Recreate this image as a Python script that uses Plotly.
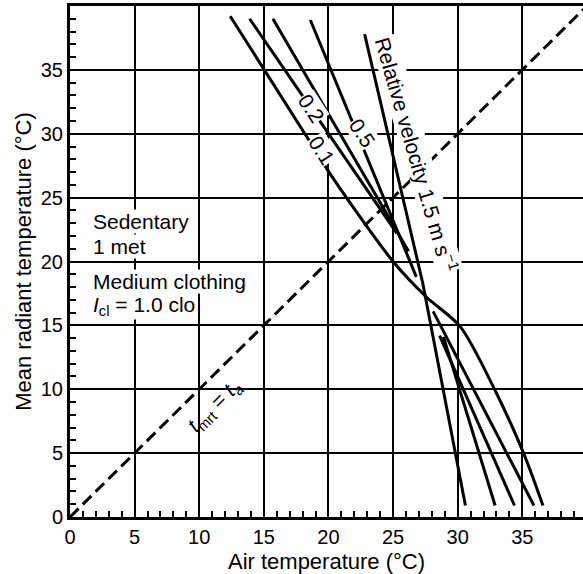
import plotly.graph_objects as go

# ---- data ----
velocity_labels = ["0.1", "0.2", "0.5", "1.0", "1.5"]

# 0.1 m/s : one continuous curve
v01_x = [12.4, 18.8, 20.3, 25.0, 27.6, 30.2, 32.9, 35.1, 36.6]
v01_y = [39.2, 29.0, 26.6, 20.0, 17.2, 14.9, 9.9, 5.0, 0.9]

# 0.2 m/s : upper and lower segments
v02_up_x = [13.9, 25.3]
v02_up_y = [39.0, 22.2]
v02_lo_x = [28.1, 35.9]
v02_lo_y = [16.1, 0.9]

# 0.5 m/s
v05_up_x = [15.7, 26.2]
v05_up_y = [39.0, 20.8]
v05_lo_x = [28.6, 34.4]
v05_lo_y = [14.2, 0.9]

# 1.0 m/s
v10_up_x = [18.6, 26.8]
v10_up_y = [38.9, 18.8]
v10_lo_x = [28.9, 32.9]
v10_lo_y = [14.1, 0.9]

# 1.5 m/s
v15_x = [22.8, 27.3, 30.6]
v15_y = [37.8, 18.3, 0.9]

# line of equal temperatures t_mrt = t_a
diag_x = [0, 40]
diag_y = [0, 40]

x_ticks = [0, 5, 10, 15, 20, 25, 30, 35]
y_ticks = [0, 5, 10, 15, 20, 25, 30, 35]

FONT = "Liberation Sans, Arial, Helvetica, sans-serif"
LW = 3

fig = go.Figure()

def add_line(x, y, shape="linear"):
    fig.add_trace(go.Scatter(x=x, y=y, mode="lines",
                             line=dict(color="black", width=LW, shape=shape, smoothing=0.8),
                             showlegend=False, hoverinfo="skip"))

add_line(v01_x, v01_y, shape="spline")
for xs, ys in [(v02_up_x, v02_up_y), (v02_lo_x, v02_lo_y),
               (v05_up_x, v05_up_y), (v05_lo_x, v05_lo_y),
               (v10_up_x, v10_up_y), (v10_lo_x, v10_lo_y)]:
    add_line(xs, ys)
add_line(v15_x, v15_y)

fig.add_trace(go.Scatter(x=diag_x, y=diag_y, mode="lines",
                         line=dict(color="black", width=LW, dash="12px,6px"),
                         showlegend=False, hoverinfo="skip"))

annots = []
def label(text, x, y, angle, size=21, bg="white", xanchor="center", yanchor="middle", align="center"):
    annots.append(dict(text=text, x=x, y=y, xref="x", yref="y", showarrow=False,
                       textangle=angle, font=dict(family=FONT, size=size, color="black"),
                       bgcolor=bg, borderpad=0, xanchor=xanchor, yanchor=yanchor, align=align))

label(velocity_labels[0], 19.5, 28.7, 57)
label(velocity_labels[1], 18.7, 32.0, 57)
label(velocity_labels[2], 22.6, 30.1, 57)
label("Relative velocity 1.5 m s<sup>−1</sup>", 26.8, 28.4, 74)
label("<i>t</i><sub>mrt</sub> = <i>t</i><sub><i>a</i></sub>", 11.2, 8.7, -45, bg="rgba(0,0,0,0)")
label("Sedentary", 1.7, 23.1, 0, xanchor="left", align="left")
label("1 met", 1.7, 21.2, 0, xanchor="left", align="left")
label("Medium clothing", 1.7, 18.4, 0, xanchor="left", align="left")
label("<i>I</i><sub>cl</sub> = 1.0 clo", 1.7, 16.5, 0, xanchor="left", align="left")

axis_common = dict(
    showgrid=True, gridcolor="black", gridwidth=1.5,
    showline=True, linecolor="black", linewidth=3,
    ticks="inside", ticklen=6, tickwidth=1.5, tickcolor="black",
    tickfont=dict(family=FONT, size=20, color="black"),
    minor=dict(dtick=1, ticks="inside", ticklen=6, tickwidth=1.5, tickcolor="black", showgrid=False),
    zeroline=False,
)

fig.update_layout(
    width=583, height=574,
    margin=dict(l=70, r=0, t=6, b=57),
    plot_bgcolor="white", paper_bgcolor="white",
    xaxis=dict(range=[0, 39.7], tickvals=x_ticks, mirror=True,
               title=dict(text="Air temperature (°C)", font=dict(family=FONT, size=22, color="black"), standoff=8),
               **axis_common),
    yaxis=dict(range=[0, 40], tickvals=y_ticks,
               title=dict(text="Mean radiant temperature (°C)", font=dict(family=FONT, size=22, color="black"), standoff=4),
               **axis_common),
    annotations=annots,
)

fig.write_html("out.html")
